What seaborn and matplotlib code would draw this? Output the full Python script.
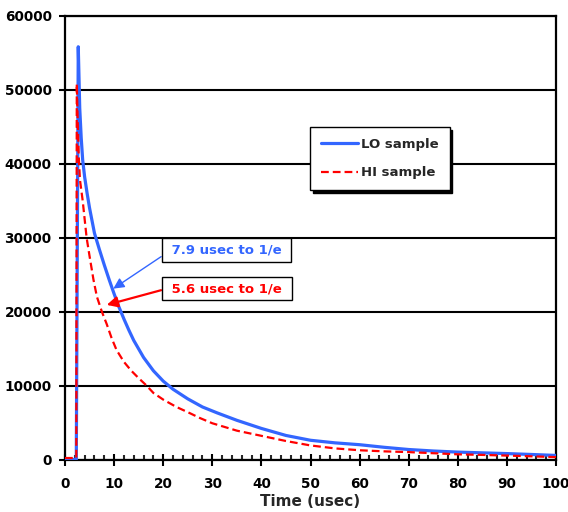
import matplotlib
matplotlib.use("Agg")
import matplotlib.pyplot as plt
from matplotlib.ticker import MultipleLocator
import pandas as pd
import seaborn as sns

# ---- data ----
lo_time = [0, 2.3, 2.7, 3.0, 3.3, 3.6, 4.0, 4.5, 5.0, 5.5, 6.0, 7.0, 8.0, 9.0, 10.0,
           11.0, 12.0, 13.0, 14.0, 16.0, 18.0, 20.0, 22.0, 25.0, 28.0, 31.0, 35.0,
           40.0, 45.0, 50.0, 55.0, 60.0, 65.0, 70.0, 75.0, 80.0, 85.0, 90.0, 95.0, 100.0]
lo_counts = [0, 0, 55800, 47500, 43500, 40500, 38200, 36000, 34000, 32300, 30600, 28400,
             26300, 24300, 22400, 20600, 19000, 17500, 16100, 13800, 12000, 10600, 9500,
             8200, 7100, 6300, 5300, 4200, 3250, 2600, 2250, 2000, 1650, 1350, 1150,
             1000, 900, 800, 680, 550]

hi_time = [0, 2.3, 2.4, 2.6, 2.8, 3.05, 3.6, 4.4, 5.0, 5.8, 6.5, 7.5, 8.5, 9.5, 10.5,
           12.0, 13.5, 15.0, 16.6, 18.0, 20.0, 22.7, 25.0, 27.5, 30.0, 35.0, 40.0, 45.0,
           50.0, 55.0, 60.0, 65.0, 70.0, 75.0, 80.0, 85.0, 90.0, 95.0, 100.0]
hi_counts = [200, 200, 50800, 45500, 41000, 37800, 35000, 30000, 27500, 24300, 22000,
             20000, 18300, 16400, 14800, 13200, 12000, 11000, 10000, 9000, 8100, 7100,
             6400, 5600, 4900, 3900, 3200, 2500, 1900, 1500, 1250, 1100, 1000, 850, 700,
             620, 530, 430, 320]

series_names = ["LO sample", "HI sample"]
series_colors = ["#3366FF", "#FF0000"]
x_ticks = list(range(0, 101, 10))
y_ticks = list(range(0, 60001, 10000))
annot_texts = ["7.9 usec to 1/e", "5.6 usec to 1/e"]

# ---- style ----
sns.set_style("white")
plt.rcParams["font.family"] = ["DejaVu Sans"]
plt.rcParams["font.weight"] = "bold"

lo_df = pd.DataFrame({"Time": lo_time, "Counts": lo_counts})
hi_df = pd.DataFrame({"Time": hi_time, "Counts": hi_counts})

fig = plt.figure(figsize=(5.68, 5.12), dpi=100)
ax = fig.add_axes([65 / 568, 1 - 459.5 / 512, 491 / 568, 443.8 / 512])

sns.lineplot(data=lo_df, x="Time", y="Counts", color=series_colors[0], linewidth=2.3,
             label=series_names[0], ax=ax, estimator=None, sort=False, zorder=3)
sns.lineplot(data=hi_df, x="Time", y="Counts", color=series_colors[1], linewidth=1.6,
             linestyle=(0, (3.5, 1.8)), label=series_names[1], ax=ax, estimator=None,
             sort=False, zorder=4)

ax.set_xlim(0, 100)
ax.set_ylim(0, 60000)
ax.set_xticks(x_ticks)
ax.set_xticklabels([str(v) for v in x_ticks])
ax.set_yticks(y_ticks)
ax.set_yticklabels([str(v) for v in y_ticks])
ax.xaxis.set_minor_locator(MultipleLocator(2))

ax.yaxis.grid(True, color="black", linewidth=1.5)
ax.xaxis.grid(False)
for sp in ax.spines.values():
    sp.set_visible(True)
    sp.set_color("black")
    sp.set_linewidth(1.6)

ax.tick_params(axis="x", which="major", direction="inout", length=9, width=1.5,
               pad=8.3, labelsize=9.8, bottom=True, top=False, colors="black")
ax.tick_params(axis="x", which="minor", direction="in", length=3.5, width=1.5,
               bottom=True, top=False)
ax.tick_params(axis="y", which="major", direction="out", length=4.3, width=1.5,
               pad=5.3, labelsize=9.8, left=True, right=False, colors="black")
for lab in ax.get_xticklabels() + ax.get_yticklabels():
    lab.set_fontweight("bold")

ax.set_xlabel("Time (usec)", fontsize=11, fontweight="bold", labelpad=2)
ax.set_ylabel("")

leg = ax.legend(loc="upper left", bbox_to_anchor=(0.499, 0.749), borderaxespad=0,
                frameon=True, fancybox=False, edgecolor="black", framealpha=1,
                shadow={"color": "black", "alpha": 1}, handlelength=2.8,
                handletextpad=0.3, borderpad=0.8, labelspacing=1.2,
                prop={"weight": "bold", "size": 9.5})
leg.get_frame().set_linewidth(1.0)

# ---- annotations ----
ax.annotate(" " + annot_texts[0] + " ", xy=(9.84, 23100), xytext=(32.9, 28300),
            color=series_colors[0], ha="center", va="center", fontsize=9.5,
            fontweight="bold", zorder=6,
            bbox=dict(boxstyle="square,pad=0.4", fc="white", ec="black", lw=1),
            arrowprops=dict(arrowstyle="-|>", color=series_colors[0], lw=1,
                            mutation_scale=16, shrinkA=0, shrinkB=0, relpos=(0, 0.3)))
ax.annotate(" " + annot_texts[1] + " ", xy=(8.5, 20900), xytext=(32.9, 23100),
            color=series_colors[1], ha="center", va="center", fontsize=9.5,
            fontweight="bold", zorder=6,
            bbox=dict(boxstyle="square,pad=0.4", fc="white", ec="black", lw=1),
            arrowprops=dict(arrowstyle="-|>", color=series_colors[1], lw=1.6,
                            mutation_scale=16, shrinkA=0, shrinkB=0, relpos=(0, 0.5)))

fig.savefig("out.png", dpi=100)
